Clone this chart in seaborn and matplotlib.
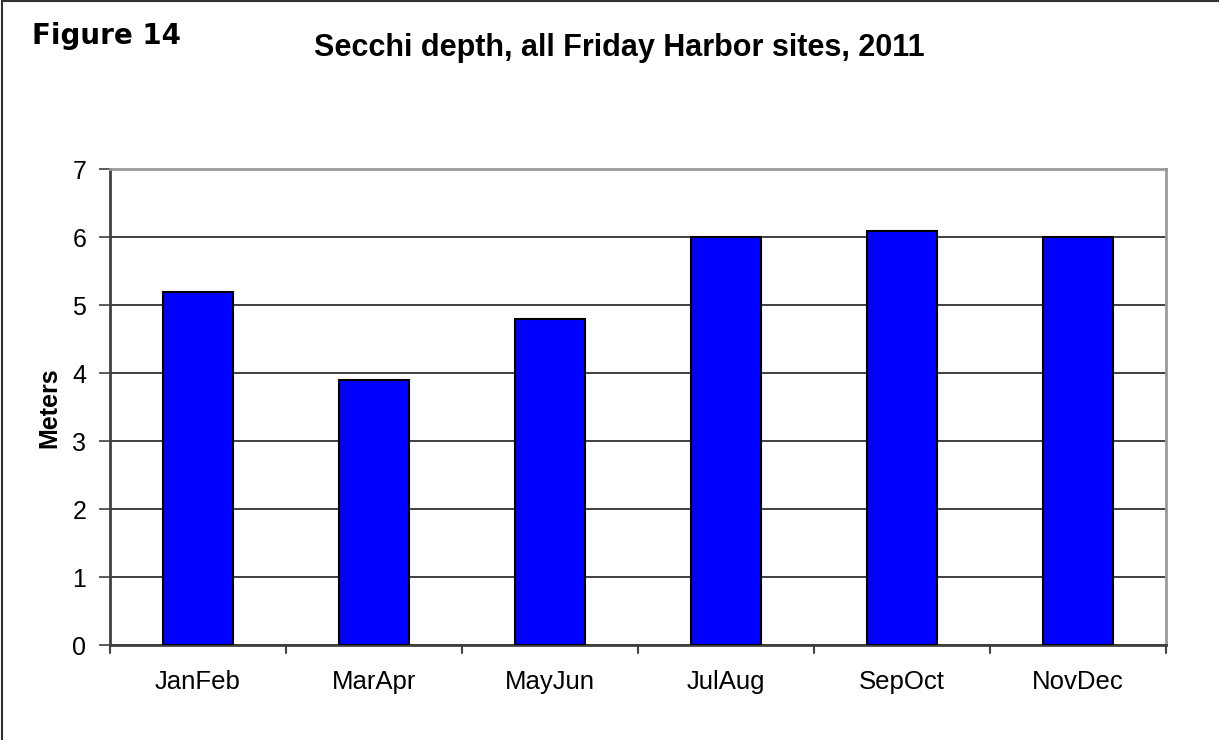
import matplotlib
matplotlib.use("Agg")
import matplotlib.pyplot as plt
import pandas as pd
import seaborn as sns
from matplotlib.lines import Line2D

# Bimonthly mean Secchi depth (m), all Friday Harbor sites, 2011
periods = ["JanFeb", "MarApr", "MayJun", "JulAug", "SepOct", "NovDec"]
depth_m = [5.2, 3.9, 4.8, 6.0, 6.1, 6.0]
y_ticks = [0, 1, 2, 3, 4, 5, 6, 7]

df = pd.DataFrame({"period": periods, "depth": depth_m})

sns.set_style("white")
plt.rcParams["font.family"] = ["Liberation Sans", "DejaVu Sans"]
plt.rcParams["text.color"] = "black"
plt.rcParams["axes.labelcolor"] = "black"
plt.rcParams["xtick.color"] = "black"
plt.rcParams["ytick.color"] = "black"

fig = plt.figure(figsize=(12.19, 7.40), dpi=100)
ax = fig.add_axes([0.0902, 0.128, 0.8663, 0.6432])

sns.barplot(data=df, x="period", y="depth", color="#0000FF", width=0.4,
            edgecolor="black", linewidth=1.5, saturation=1, ax=ax, zorder=3)

ax.set_ylim(0, 7)
ax.set_xlim(-0.5, len(periods) - 0.5)
ax.set_yticks(y_ticks)
ax.set_yticklabels([str(t) for t in y_ticks], fontsize=18)
ax.tick_params(axis="x", labelsize=18.5, length=0, pad=18, colors="black")
ax.tick_params(axis="y", length=8, width=1.2, color="#404040", direction="out",
               pad=9, left=True, labelcolor="black")

# horizontal gridlines
ax.yaxis.grid(True, color="#202020", linewidth=1.2, zorder=0)
ax.xaxis.grid(False)

# category separator ticks below the x axis
for b in range(len(periods) + 1):
    ax.plot([b - 0.5, b - 0.5], [0, -0.12], color="#404040", lw=1.5,
            clip_on=False, zorder=4)

for side in ["left", "bottom"]:
    ax.spines[side].set_color("#404040")
    ax.spines[side].set_linewidth(2)
for side in ["top", "right"]:
    ax.spines[side].set_color("#999999")
    ax.spines[side].set_linewidth(2)
    ax.spines[side].set_visible(True)

ax.set_xlabel("")
ax.set_ylabel("Meters", fontsize=18, fontweight="bold", labelpad=8,
              color="black")

fig.text(0.508, 0.935, "Secchi depth, all Friday Harbor sites, 2011",
         ha="center", va="center", fontsize=22, fontweight="bold",
         color="black")
fig.text(0.026, 0.952, "Figure 14", ha="left", va="center",
         fontsize=20, fontweight="heavy", family="DejaVu Sans",
         color="black")

# outer frame (left and top edges)
fig.add_artist(Line2D([0.002, 0.002], [0, 0.999], transform=fig.transFigure,
                      color="#303030", lw=1.5))
fig.add_artist(Line2D([0.002, 1.0], [0.998, 0.998], transform=fig.transFigure,
                      color="#303030", lw=1.5))

fig.savefig("out.png", dpi=100)
